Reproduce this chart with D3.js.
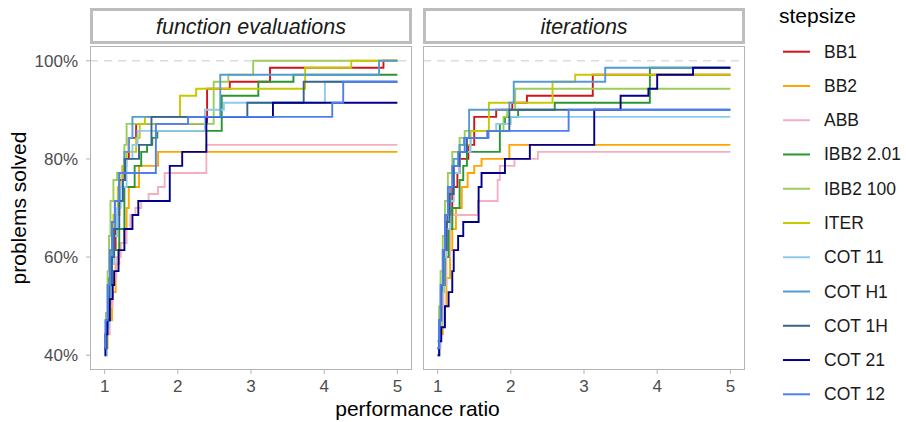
<!DOCTYPE html>
<head>
  <meta charset="utf-8">
  <script src="https://cdnjs.cloudflare.com/ajax/libs/d3/7.8.5/d3.min.js"></script>
</head>

<style>
body {
  margin: 0;
  background-color: #fff;
}
svg text {
  font-family: "Liberation Sans", Arial, sans-serif;
}
</style>

<body>
  <svg id='chart' width='906' height='422'></svg>
</body>

<script>

// number of test problems, profile values are solved / nProblems
var nProblems = 70;

var methods = ['BB1', 'BB2', 'ABB', 'IBB2 2.01', 'IBB2 100', 'ITER',
               'COT 11', 'COT H1', 'COT 1H', 'COT 21', 'COT 12'];
var colours = ['#d0141a', '#ffa500', '#f4b0c0', '#2a9630', '#9acd5a', '#c8c800',
               '#8ecaf0', '#559bd2', '#35648f', '#00008b', '#4d7ff0'];

var panels = ['function evaluations', 'iterations'];
var xTicks = [1, 2, 3, 4, 5];
var yTicks = [0.4, 0.6, 0.8, 1.0];

// [performance ratio, problems solved] -- function evaluations
var fevBB1   = [[1,29],[1.03,33],[1.06,38],[1.1,43],[1.15,48],[1.2,53],[1.27,56],[1.33,59],[1.43,61],[2.4,66],[2.71,67],[3.26,69],[4.81,70]];
var fevBB2   = [[1,29],[1.04,33],[1.1,37],[1.15,41],[1.2,44],[1.27,46],[1.3,49],[1.33,52],[1.47,55],[1.73,57]];
var fevABB   = [[1,28],[1.03,31],[1.07,35],[1.11,39],[1.16,42],[1.22,44],[1.3,46],[1.35,48],[1.42,49],[1.5,50],[1.6,51],[1.73,52],[1.82,54],[2.39,58]];
var fevIBB2a = [[1,30],[1.02,34],[1.05,39],[1.1,43],[1.2,46],[1.27,52],[1.41,55],[1.5,57],[1.58,58],[1.65,59],[1.72,60],[2.6,65],[3.1,67],[3.58,68]];
var fevIBB2b = [[1,30],[1.02,34],[1.04,40],[1.06,45],[1.08,50],[1.12,53],[1.17,54],[1.27,58],[1.3,61],[2.49,67],[2.69,68],[3.03,70]];
var fevITER  = [[1,29],[1.02,33],[1.05,38],[1.08,43],[1.12,48],[1.18,52],[1.24,55],[1.3,57],[1.43,59],[1.48,61],[1.55,62],[2.03,65],[2.25,66],[3.74,69],[4.37,70]];
var fevCOT11 = [[1,28],[1.03,32],[1.06,36],[1.1,41],[1.13,45],[1.17,49],[1.22,52],[1.3,56],[1.38,58],[1.45,60],[2.37,63],[2.63,64],[4.01,67]];
var fevCOTH1 = [[1,29],[1.02,33],[1.05,38],[1.08,42],[1.1,46],[1.14,50],[1.2,54],[1.27,57],[1.33,59],[1.38,62],[2.58,68],[4.75,70]];
var fevCOT1H = [[1,29],[1.03,33],[1.07,38],[1.1,42],[1.13,46],[1.2,50],[1.25,53],[1.28,56],[1.47,58],[1.64,62],[2.95,64],[3.72,67]];
var fevCOT21 = [[1,28],[1.01,31],[1.04,33],[1.07,36],[1.11,38],[1.13,40],[1.19,43],[1.27,46],[1.38,48],[1.46,50],[1.89,55],[2.06,57],[2.39,62],[3.3,64]];
var fevCOT12 = [[1,29],[1.01,33],[1.04,38],[1.07,43],[1.1,47],[1.14,50],[1.2,54],[1.7,61],[2.14,62],[4.11,64],[4.26,67]];

// [performance ratio, problems solved] -- iterations
var itBB1   = [[1,29],[1.03,33],[1.06,38],[1.09,43],[1.13,48],[1.2,52],[1.27,54],[1.3,56],[1.42,58],[1.5,62],[1.8,63],[2.02,64],[2.22,65],[3.12,68]];
var itBB2   = [[1,28],[1.03,31],[1.07,35],[1.12,39],[1.17,43],[1.2,46],[1.25,49],[1.33,52],[1.41,54],[1.5,55],[1.6,56],[1.98,58]];
var itABB   = [[1,29],[1.04,33],[1.08,38],[1.12,42],[1.17,46],[1.2,48],[1.55,50],[1.82,53],[1.85,55],[2.05,56],[2.37,57]];
var itIBB2a = [[1,30],[1.03,34],[1.06,38],[1.1,42],[1.15,46],[1.2,49],[1.3,53],[1.35,55],[1.4,57],[1.85,61],[1.92,62],[2.1,63],[2.6,64],[3.9,69]];
var itIBB2b = [[1,30],[1.02,35],[1.04,40],[1.07,45],[1.1,50],[1.14,54],[1.2,57],[1.3,59],[1.37,60],[1.9,62],[1.95,63],[2.06,66]];
var itITER  = [[1,29],[1.02,33],[1.05,38],[1.08,43],[1.11,48],[1.15,52],[1.2,55],[1.3,58],[1.45,60],[1.7,64],[2.57,67],[2.88,68]];
var itCOT11 = [[1,28],[1.03,32],[1.06,37],[1.09,42],[1.12,46],[1.17,50],[1.22,54],[1.3,57],[1.45,59],[1.7,60],[1.8,61],[2.0,62]];
var itCOTH1 = [[1,29],[1.02,33],[1.05,38],[1.08,43],[1.12,48],[1.17,52],[1.22,56],[1.3,58],[1.36,59],[1.43,63],[1.98,64],[2.04,67],[3.29,69]];
var itCOT1H = [[1,29],[1.02,33],[1.05,38],[1.08,43],[1.12,47],[1.16,51],[1.22,55],[1.3,57],[1.4,59],[1.68,60],[1.98,63]];
var itCOT21 = [[1,28],[1.02,30],[1.05,32],[1.1,35],[1.15,37],[1.2,40],[1.22,43],[1.28,45],[1.35,47],[1.56,52],[1.6,54],[1.92,56],[2.26,58],[3.14,63],[3.5,65],[3.88,66],[4.0,68],[4.49,69]];
var itCOT12 = [[1,29],[1.02,33],[1.04,38],[1.07,43],[1.1,48],[1.14,52],[1.2,55],[1.28,57],[1.37,59],[1.69,60],[2.79,63]];

var fevSteps = [fevBB1, fevBB2, fevABB, fevIBB2a, fevIBB2b, fevITER, fevCOT11, fevCOTH1, fevCOT1H, fevCOT21, fevCOT12];
var itSteps  = [itBB1, itBB2, itABB, itIBB2a, itIBB2b, itITER, itCOT11, itCOTH1, itCOT1H, itCOT21, itCOT12];
var panelSteps = [fevSteps, itSteps];

var svg = d3.select('#chart');

var panelLeft = [90, 423];
var panelW = 322;
var plotTop = 46, plotBottom = 370;
var tauMax = 5;

var y = d3.scaleLinear().domain([0.37, 1.03]).range([plotBottom, plotTop]);

var line_gen = function(x) {
  return d3.line()
    .curve(d3.curveStepAfter)
    .x(function(d) { return x(d[0]); })
    .y(function(d) { return y(d[1] / nProblems); });
}

panels.forEach(function(title, p) {
  var x0 = panelLeft[p];
  var x = d3.scaleLinear().domain([0.8, 5.2]).range([x0, x0 + panelW]);
  var g = svg.append('g');

  // strip
  g.append('rect')
    .attr('x', x0 + 1.5).attr('y', 9.5)
    .attr('width', panelW - 3).attr('height', 33)
    .attr('fill', '#fff')
    .attr('stroke', '#bdbdbd')
    .attr('stroke-width', 3);
  g.append('text')
    .attr('x', x0 + panelW / 2).attr('y', 33.5)
    .attr('text-anchor', 'middle')
    .attr('font-size', 21.5)
    .attr('font-style', 'italic')
    .attr('fill', '#1a1a1a')
    .text(title);

  g.append('clipPath').attr('id', 'clip' + p)
    .append('rect')
      .attr('x', x0).attr('y', plotTop)
      .attr('width', panelW).attr('height', plotBottom - plotTop);

  // 100% reference
  g.append('line')
    .attr('x1', x0).attr('x2', x0 + panelW)
    .attr('y1', y(1)).attr('y2', y(1))
    .attr('stroke', '#dcdcdc')
    .attr('stroke-width', 1.6)
    .attr('stroke-dasharray', '8,6');

  var lines = g.append('g').attr('clip-path', 'url(#clip' + p + ')');
  panelSteps[p].forEach(function(steps, i) {
    var pts = steps.concat([[tauMax, steps[steps.length - 1][1]]]);
    lines.append('path')
      .attr('d', line_gen(x)(pts))
      .attr('fill', 'none')
      .attr('stroke', colours[i])
      .attr('stroke-width', 1.9);
  });

  // panel border
  g.append('rect')
    .attr('x', x0 + 0.5).attr('y', plotTop + 0.5)
    .attr('width', panelW - 1).attr('height', plotBottom - plotTop - 1)
    .attr('fill', 'none')
    .attr('stroke', '#b3b3b3')
    .attr('stroke-width', 1);

  // x axis
  var xa = g.append('g').attr('transform', 'translate(0,' + plotBottom + ')');
  xa.selectAll('line').data(xTicks).enter().append('line')
    .attr('x1', x).attr('x2', x)
    .attr('y1', 0).attr('y2', 4)
    .attr('stroke', '#b3b3b3');
  xa.selectAll('text').data(xTicks).enter().append('text')
    .attr('x', x).attr('y', 22)
    .attr('text-anchor', 'middle')
    .attr('font-size', 17)
    .attr('fill', '#4d4d4d')
    .text(function(d) { return d; });
});

// y axis (left panel only)
var ya = svg.append('g');
ya.selectAll('line').data(yTicks).enter().append('line')
  .attr('x1', 86).attr('x2', 90)
  .attr('y1', y).attr('y2', y)
  .attr('stroke', '#b3b3b3');
ya.selectAll('text').data(yTicks).enter().append('text')
  .attr('x', 78).attr('y', function(d) { return y(d) + 6; })
  .attr('text-anchor', 'end')
  .attr('font-size', 17)
  .attr('fill', '#4d4d4d')
  .text(d3.format('.0%'));

svg.append('text')
  .attr('transform', 'translate(26,' + ((plotTop + plotBottom) / 2) + ') rotate(-90)')
  .attr('text-anchor', 'middle')
  .attr('font-size', 21)
  .text('problems solved');

svg.append('text')
  .attr('x', (panelLeft[0] + panelLeft[1] + panelW) / 2).attr('y', 416)
  .attr('text-anchor', 'middle')
  .attr('font-size', 21)
  .text('performance ratio');

// legend
var leg = svg.append('g');
leg.append('text')
  .attr('x', 779).attr('y', 23)
  .attr('font-size', 21)
  .text('stepsize');
var items = leg.selectAll('g.item').data(methods).enter().append('g')
  .attr('transform', function(d, i) { return 'translate(0,' + (51.7 + i * 34.26) + ')'; });
items.append('line')
  .attr('x1', 783).attr('x2', 810)
  .attr('stroke', function(d, i) { return colours[i]; })
  .attr('stroke-width', 2);
items.append('text')
  .attr('x', 824).attr('y', 6)
  .attr('font-size', 17.5)
  .attr('fill', '#1a1a1a')
  .text(function(d) { return d; });

</script>
